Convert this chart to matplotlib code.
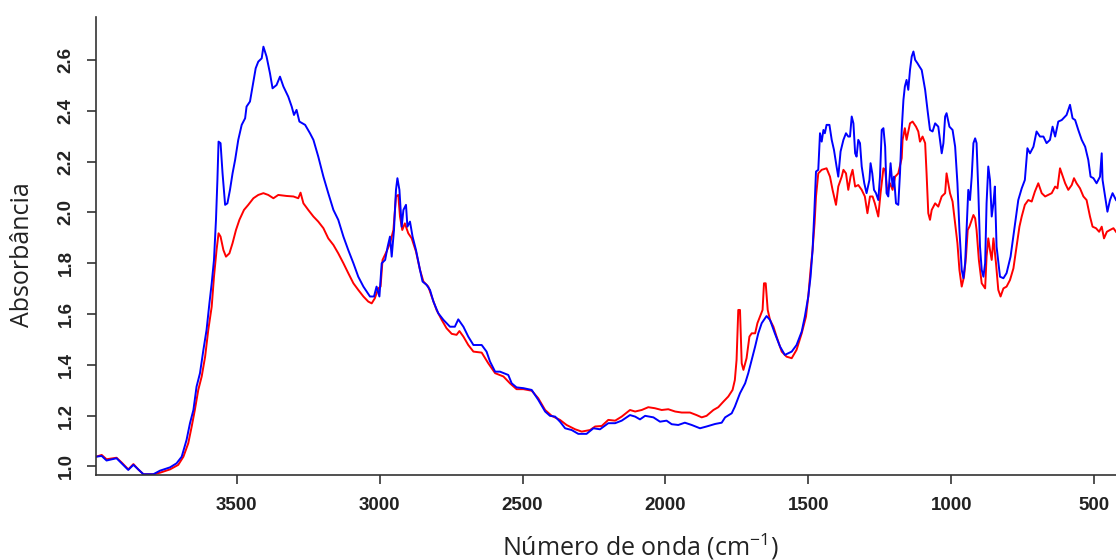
import numpy as np
import matplotlib.pyplot as plt

plt.rcParams['mathtext.fontset'] = 'custom'
plt.rcParams['mathtext.rm'] = 'Open Sans'
plt.rcParams['mathtext.it'] = 'Open Sans'

# amostra 1 (vermelho)
wn_red = [3993, 3973, 3956, 3921, 3903, 3880, 3862, 3845, 3827, 3792, 3769, 3734, 3705, 3687,
          3670, 3658, 3647, 3635, 3623, 3611, 3600, 3588, 3580, 3571, 3564, 3557, 3547, 3538,
          3526, 3515, 3503, 3491, 3475, 3460, 3442, 3425, 3407, 3390, 3372, 3355, 3326, 3302,
          3285, 3277, 3267, 3250, 3232, 3215, 3197, 3180, 3162, 3145, 3127, 3110, 3092, 3075,
          3057, 3040, 3028, 3017, 3005, 2997, 2990, 2976, 2964, 2952, 2943, 2935, 2929, 2921,
          2912, 2900, 2888, 2873, 2859, 2847, 2830, 2818, 2801, 2783, 2766, 2748, 2731, 2721,
          2707, 2690, 2672, 2643, 2620, 2596, 2567, 2544, 2521, 2497, 2468, 2445, 2421, 2398,
          2369, 2346, 2316, 2293, 2264, 2246, 2223, 2200,
          2176, 2153, 2124, 2106, 2083, 2060, 2037, 2013, 1990, 1966, 1943, 1914, 1891, 1873,
          1856, 1832, 1815, 1797, 1780, 1765, 1757, 1751, 1745, 1739, 1733, 1727, 1716, 1706,
          1698, 1686, 1678, 1669, 1660, 1655, 1649, 1642, 1634, 1622, 1611, 1593, 1576, 1558,
          1541, 1523, 1508, 1500, 1492, 1485, 1478, 1473, 1465, 1453, 1436, 1424, 1415, 1403,
          1395, 1383, 1377, 1368, 1360, 1352, 1345, 1336, 1325, 1313, 1302, 1293, 1284, 1275,
          1267, 1255, 1247, 1237, 1231, 1223, 1214, 1205, 1196, 1185, 1173, 1170, 1162, 1156,
          1144, 1135, 1123, 1115, 1109, 1100, 1091, 1086, 1080, 1074, 1068, 1056, 1045, 1033,
          1021, 1016, 1010, 1004, 995, 986, 978, 971, 963, 955, 948, 942, 936, 928, 922, 916,
          911, 903, 893, 881, 876, 870, 864, 858, 852, 843, 835, 827, 817, 806, 794, 782, 771,
          761, 753, 742, 730, 718, 707, 695, 683, 671, 660, 648, 636, 628, 619, 613, 601, 590,
          578, 570, 561, 549, 537, 526, 514, 505, 493, 482, 473, 465, 455, 444, 432, 423]
abs_red = [1.038, 1.045, 1.028, 1.034, 1.015, 0.988, 1.009, 0.988, 0.969, 0.969, 0.975, 0.988,
           1.006, 1.038, 1.091, 1.157, 1.222, 1.301, 1.354, 1.432, 1.537, 1.629, 1.747, 1.852,
           1.918, 1.905, 1.852, 1.826, 1.839, 1.879, 1.931, 1.971, 2.010, 2.030, 2.056, 2.069,
           2.076, 2.069, 2.056, 2.069, 2.065, 2.063, 2.056, 2.078, 2.036, 2.010, 1.984, 1.964,
           1.938, 1.898, 1.872, 1.839, 1.800, 1.761, 1.721, 1.695, 1.669, 1.649, 1.642, 1.662,
           1.701, 1.708, 1.813, 1.846, 1.879, 1.931, 2.063, 2.069, 1.984, 1.931, 1.957, 1.918,
           1.898, 1.846, 1.774, 1.728, 1.708, 1.669, 1.616, 1.577, 1.544, 1.522, 1.518, 1.533,
           1.511, 1.478, 1.452, 1.448, 1.406, 1.367, 1.354, 1.327, 1.304, 1.304, 1.298, 1.268,
           1.222, 1.199, 1.183, 1.163, 1.146, 1.137, 1.143, 1.157, 1.159, 1.183,
           1.180, 1.196, 1.222, 1.216, 1.222, 1.233, 1.229, 1.222, 1.225, 1.216, 1.212, 1.212,
           1.202, 1.193, 1.199, 1.222, 1.233, 1.255, 1.275, 1.301, 1.340, 1.419, 1.616, 1.616,
           1.406, 1.380, 1.426, 1.511, 1.524, 1.524, 1.564, 1.590, 1.616, 1.721, 1.721, 1.616,
           1.577, 1.550, 1.511, 1.452, 1.432, 1.426, 1.459, 1.524, 1.590, 1.669, 1.774, 1.852,
           1.957, 2.063, 2.154, 2.168, 2.174, 2.141, 2.089, 2.030, 2.102, 2.141, 2.168, 2.154,
           2.089, 2.141, 2.168, 2.102, 2.108, 2.089, 2.063, 1.997, 2.063, 2.063, 2.036, 1.984,
           2.076, 2.174, 2.168, 2.076, 2.115, 2.089, 2.141, 2.154, 2.214, 2.286, 2.332, 2.286,
           2.351, 2.358, 2.338, 2.319, 2.279, 2.299, 2.273, 2.154, 1.997, 1.971, 2.010, 2.036,
           2.023, 2.063, 2.076, 2.154, 2.115, 2.076, 2.043, 1.957, 1.879, 1.774, 1.708, 1.747,
           1.826, 1.931, 1.944, 1.971, 1.990, 1.977, 1.931, 1.813, 1.721, 1.701, 1.826, 1.898,
           1.852, 1.813, 1.898, 1.800, 1.695, 1.669, 1.701, 1.708, 1.734, 1.780, 1.866, 1.944,
           1.984, 2.030, 2.049, 2.043, 2.082, 2.115, 2.076, 2.063, 2.069, 2.076, 2.102, 2.095,
           2.174, 2.154, 2.115, 2.089, 2.108, 2.135, 2.115, 2.095, 2.063, 2.049, 1.984, 1.944,
           1.938, 1.924, 1.944, 1.898, 1.924, 1.931, 1.938, 1.924]

# amostra 2 (azul)
wn_blue = [3993, 3973, 3956, 3921, 3903, 3880, 3862, 3845, 3827, 3792, 3769, 3734, 3711, 3693,
           3676, 3664, 3652, 3641, 3629, 3617, 3606, 3596, 3588, 3580, 3573, 3568, 3564, 3557,
           3550, 3541, 3533, 3524, 3515, 3506, 3495, 3483, 3471, 3466, 3454, 3445, 3434, 3425,
           3413, 3407, 3396, 3384, 3375, 3361, 3349, 3337, 3320, 3308, 3300, 3291, 3281, 3261,
           3244, 3232, 3215, 3197, 3180, 3162, 3145, 3127, 3110, 3092, 3075, 3057, 3034, 3020,
           3011, 3001, 2993, 2981, 2972, 2964, 2958, 2950, 2943, 2938, 2931, 2923, 2917, 2908,
           2903, 2894, 2885, 2873, 2859, 2850, 2836, 2824, 2812, 2795, 2777, 2754, 2737, 2725,
           2707, 2690, 2672, 2643, 2626, 2614, 2596, 2579, 2550, 2538, 2521, 2497, 2468, 2445,
           2421, 2404, 2386, 2369, 2351, 2328, 2305, 2276, 2252, 2229, 2200,
           2176, 2153, 2124, 2106, 2089, 2071, 2042, 2019, 1996, 1978, 1955, 1932, 1908, 1879,
           1856, 1826, 1803, 1791, 1768, 1757, 1739, 1721, 1710, 1698, 1686, 1675, 1663, 1646,
           1634, 1617, 1599, 1582, 1558, 1541, 1523, 1512, 1500, 1492, 1485, 1479, 1473, 1465,
           1459, 1453, 1447, 1442, 1436, 1426, 1418, 1410, 1401, 1395, 1387, 1377, 1368, 1360,
           1354, 1348, 1342, 1336, 1331, 1325, 1319, 1313, 1304, 1296, 1286, 1282, 1276, 1270,
           1263, 1255, 1249, 1243, 1237, 1231, 1226, 1220, 1212, 1205, 1200, 1193, 1185, 1179,
           1173, 1167, 1162, 1156, 1150, 1144, 1138, 1132, 1126, 1118, 1111, 1103, 1091, 1082,
           1074, 1065, 1056, 1045, 1033, 1027, 1021, 1016, 1006, 995, 986, 978, 971, 963, 957,
           951, 946, 940, 934, 928, 922, 916, 911, 905, 899, 893, 887, 881, 876, 870, 864, 858,
           852, 847, 841, 829, 817, 806, 792, 776, 765, 753, 742, 733, 724, 712, 701, 689, 677,
           666, 654, 645, 636, 625, 613, 601, 596, 584, 575, 566, 555, 543, 531, 520, 512, 502,
           491, 479, 473, 470, 461, 453, 444, 435, 423]
abs_blue = [1.038, 1.041, 1.023, 1.032, 1.012, 0.986, 1.006, 0.988, 0.969, 0.969, 0.983, 0.996,
            1.012, 1.038, 1.104, 1.170, 1.222, 1.314, 1.367, 1.459, 1.537, 1.642, 1.721, 1.813,
            1.971, 2.128, 2.279, 2.273, 2.154, 2.030, 2.036, 2.089, 2.154, 2.207, 2.286, 2.345,
            2.371, 2.417, 2.437, 2.496, 2.568, 2.594, 2.607, 2.653, 2.614, 2.548, 2.489, 2.502,
            2.535, 2.496, 2.456, 2.417, 2.384, 2.404, 2.358, 2.345, 2.312, 2.286, 2.220, 2.141,
            2.076, 2.010, 1.971, 1.905, 1.852, 1.800, 1.747, 1.708, 1.669, 1.669, 1.708, 1.669,
            1.800, 1.813, 1.866, 1.905, 1.826, 1.931, 2.089, 2.135, 2.089, 1.944, 2.010, 2.030,
            1.944, 1.964, 1.905, 1.852, 1.774, 1.728, 1.715, 1.695, 1.649, 1.603, 1.577, 1.550,
            1.550, 1.579, 1.550, 1.511, 1.478, 1.478, 1.452, 1.413, 1.373, 1.373, 1.360, 1.327,
            1.311, 1.308, 1.301, 1.262, 1.216, 1.199, 1.196, 1.176, 1.150, 1.143, 1.128, 1.128,
            1.150, 1.146, 1.170,
            1.170, 1.180, 1.202, 1.196, 1.185, 1.199, 1.193, 1.176, 1.180, 1.166, 1.163, 1.172,
            1.163, 1.150, 1.157, 1.167, 1.172, 1.193, 1.209, 1.235, 1.288, 1.327, 1.367, 1.419,
            1.472, 1.524, 1.564, 1.592, 1.577, 1.524, 1.472, 1.439, 1.452, 1.478, 1.531, 1.590,
            1.669, 1.747, 1.852, 1.997, 2.161, 2.168, 2.312, 2.279, 2.325, 2.312, 2.345, 2.345,
            2.286, 2.246, 2.181, 2.141, 2.240, 2.286, 2.312, 2.299, 2.299, 2.378, 2.351, 2.233,
            2.220, 2.286, 2.273, 2.181, 2.115, 2.076, 2.128, 2.194, 2.154, 2.089, 2.076, 2.049,
            2.141, 2.325, 2.332, 2.259, 2.076, 2.063, 2.194, 2.102, 2.141, 2.036, 2.030, 2.154,
            2.325, 2.443, 2.496, 2.522, 2.483, 2.561, 2.614, 2.634, 2.601, 2.588, 2.575, 2.561,
            2.483, 2.397, 2.325, 2.319, 2.351, 2.338, 2.233, 2.273, 2.378, 2.391, 2.338, 2.325,
            2.259, 2.115, 1.931, 1.774, 1.741, 1.800, 1.931, 2.089, 2.049, 2.141, 2.273, 2.292,
            2.273, 2.089, 1.866, 1.774, 1.747, 1.800, 2.036, 2.181, 2.128, 1.984, 2.036, 2.102,
            1.866, 1.747, 1.741, 1.761, 1.826, 1.957, 2.049, 2.095, 2.128, 2.253, 2.233, 2.259,
            2.319, 2.299, 2.299, 2.273, 2.286, 2.338, 2.299, 2.358, 2.364, 2.378, 2.384, 2.424,
            2.371, 2.364, 2.325, 2.286, 2.259, 2.207, 2.141, 2.135, 2.115, 2.141, 2.233, 2.128,
            2.063, 2.003, 2.049, 2.076, 2.049]

yticks = [1.0, 1.2, 1.4, 1.6, 1.8, 2.0, 2.2, 2.4, 2.6]
xticks = [3500, 3000, 2500, 2000, 1500, 1000, 500]

fig = plt.figure(figsize=(11.16, 5.6), dpi=100)
ax = fig.add_axes([0.086, 0.1518, 0.914, 0.8179])

ax.plot(wn_red, abs_red, color='#ff0000', lw=1.4)
ax.plot(wn_blue, abs_blue, color='#0000ff', lw=1.4)

ax.set_xlim(3993, 423)
ax.set_ylim(0.966, 2.77)

for s in ['top', 'right']:
    ax.spines[s].set_visible(False)
for s in ['left', 'bottom']:
    ax.spines[s].set_color('#333333')
    ax.spines[s].set_linewidth(1.2)

ax.set_xticks(xticks)
ax.set_xticklabels([str(t) for t in xticks], fontfamily='Liberation Sans',
                   fontsize=13.5, fontweight='bold', color='#222222')
ax.set_yticks(yticks)
ax.set_yticklabels(['%.1f' % t for t in yticks], fontfamily='Liberation Sans',
                   fontsize=13.5, fontweight='bold', color='#222222',
                   rotation=90, va='center')
ax.tick_params(axis='both', direction='out', length=6.5, width=1.2, color='#333333')
ax.tick_params(axis='x', pad=9)
ax.tick_params(axis='y', pad=9)

fig.text(0.0206, 0.545, 'Absorbância', rotation=90, ha='center', va='center',
         fontfamily='Open Sans', fontsize=18, color='#222222')
fig.text(0.574, 0.024, 'Número de onda (cm$^{-1}$)', ha='center', va='center',
         fontfamily='Open Sans', fontsize=18, color='#222222')

fig.savefig('out.png', dpi=100)
